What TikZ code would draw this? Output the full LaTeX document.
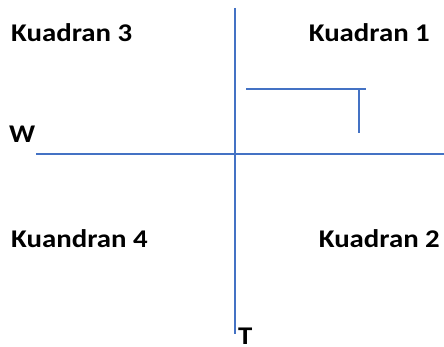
\documentclass[tikz,border=0pt]{standalone}
\usepackage{fontspec}
\setmainfont{Carlito}
\newcommand{\wlbl}[1]{\scalebox{1.13}[1]{#1}}
\begin{document}
\begin{tikzpicture}[x=1pt,y=-1pt,
  axis/.style={draw=axisblue,line width=1.2pt},
  lbl/.style={font=\fontsize{25.5}{30}\selectfont\bfseries,inner sep=0pt}]
\definecolor{axisblue}{HTML}{4472C4}
\useasboundingbox (0,0) rectangle (444,347);
\coordinate (vt) at (235,8);
\coordinate (vb) at (235,334);
\coordinate (hl) at (36,154);
\coordinate (hr) at (444,154);
\coordinate (sa) at (246,89);
\coordinate (sb) at (366,89);
\coordinate (sc) at (359,89);
\coordinate (sd) at (359,133);
\draw[axis] (vt) -- (vb);
\draw[axis] (hl) -- (hr);
\draw[axis] (sa) -- (sb);
\draw[axis] (sc) -- (sd);
\node[lbl,anchor=base west] (k3) at (11,42) {\wlbl{Kuadran 3}};
\node[lbl,anchor=base east] (k1) at (430,42) {\wlbl{Kuadran 1}};
\node[lbl,anchor=base west] (w) at (9,143) {\wlbl{W}};
\node[lbl,anchor=base west] (k4) at (11,247.5) {\wlbl{Kuandran 4}};
\node[lbl,anchor=base east] (k2) at (440,247.5) {\wlbl{Kuadran 2}};
\node[lbl,anchor=base west,text depth=0pt] (t) at (238,344) {\wlbl{T}};
\end{tikzpicture}
\end{document}
